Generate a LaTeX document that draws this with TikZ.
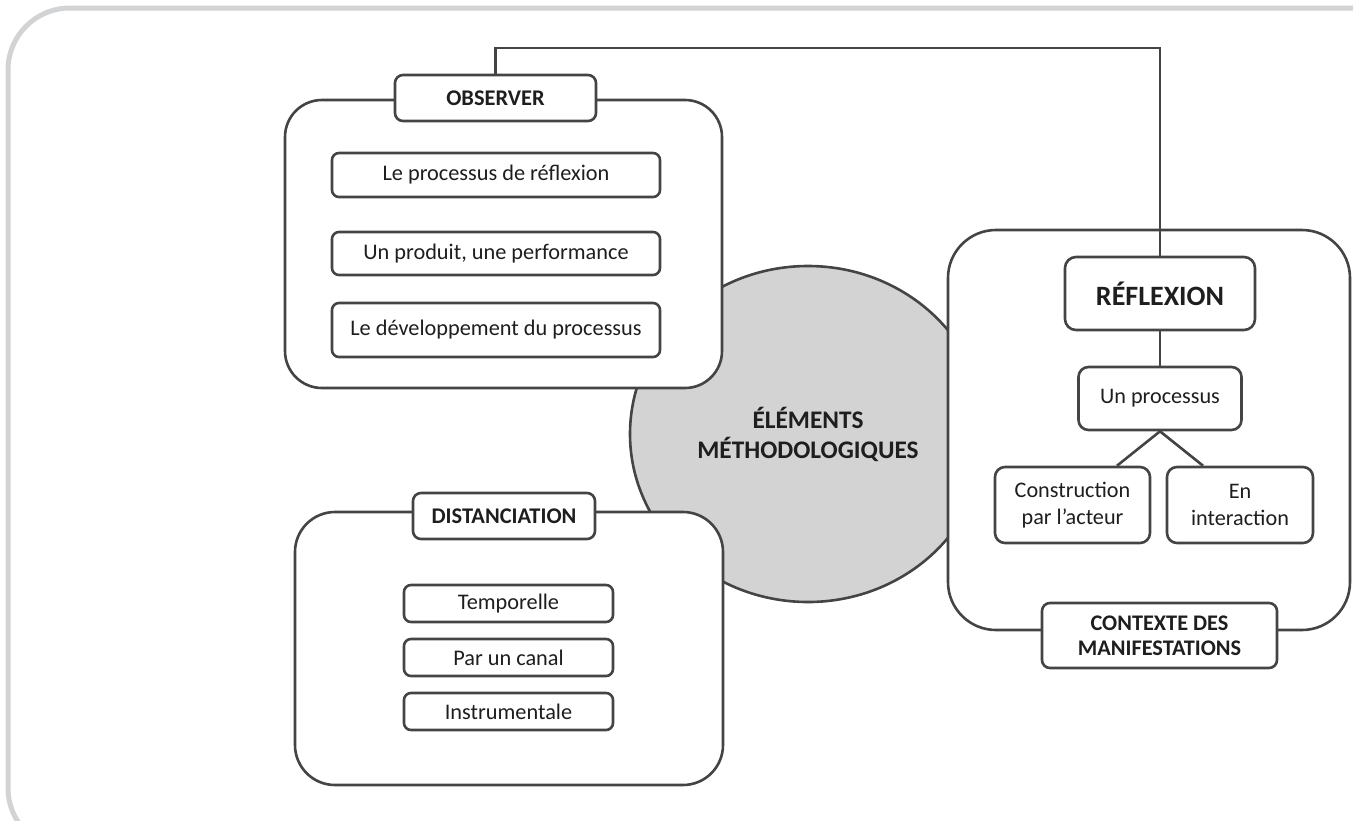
\documentclass[tikz,border=0pt]{standalone}
\usepackage{fontspec}
\setmainfont{Carlito}
\usetikzlibrary{shapes.geometric,calc}
\definecolor{framegray}{RGB}{210,211,213}
\definecolor{linegray}{RGB}{68,68,68}
\definecolor{circfill}{RGB}{211,211,211}
\definecolor{txt}{RGB}{30,30,30}
\tikzset{
  base/.style={draw=linegray, line width=2.6pt, fill=white, text=txt, inner sep=0pt, align=center},
  bigbox/.style={base, rounded corners=#1},
  bigbox/.default=38pt,
  item/.style={base, rounded corners=7pt, font=\fontsize{22.3}{26}\selectfont},
  label/.style={base, rounded corners=8pt, font=\bfseries\fontsize{22.4}{25}\selectfont},
  rbox/.style={base, rounded corners=10pt, font=\fontsize{22.2}{27}\selectfont},
  conn/.style={draw=linegray, line width=2.6pt}
}
\begin{document}
\begin{tikzpicture}[x=1pt,y=-1pt]
\useasboundingbox (0,0) rectangle (1353,820);
\clip (0,0) rectangle (1353,820);
% outer frame
\draw[framegray, line width=5pt, rounded corners=62pt] (8,8) rectangle (1430,850);
% central ellipse
\node (circ) [ellipse, draw=linegray, line width=2.6pt, fill=circfill, minimum width=356pt, minimum height=336pt, inner sep=0pt, align=center, text=txt, font=\bfseries\fontsize{25.3}{30}\selectfont] at (808,434) {ÉLÉMENTS\\MÉTHODOLOGIQUES};
% connector top
\coordinate (c1) at (495.5,48);
\coordinate (c2) at (1160,48);
% observer
\node (obs) [bigbox=37pt, minimum width=437pt, minimum height=288pt] at (503.5,244) {};
\node (obslab) [label, minimum width=201pt, minimum height=46pt] at (495.5,98) {OBSERVER};
\node (o1) [item, minimum width=328pt, minimum height=44pt] at (496,175) {Le processus de réflexion};
\node (o2) [item, minimum width=328pt, minimum height=43pt] at (496,253.5) {Un produit, une performance};
\node (o3) [item, minimum width=328pt, minimum height=54pt] at (496,330) {Le développement du processus};
% distanciation
\node (dist) [bigbox=40pt, minimum width=428pt, minimum height=273pt] at (509,648.5) {};
\node (distlab) [label, minimum width=182pt, minimum height=46pt] at (504,516) {DISTANCIATION};
\node (d1) [item, minimum width=209pt, minimum height=37pt] at (508.5,603.5) {Temporelle};
\node (d2) [item, minimum width=209pt, minimum height=37pt] at (508.5,657.5) {Par un canal};
\node (d3) [item, minimum width=209pt, minimum height=37pt] at (508.5,711.5) {Instrumentale};
% right box
\node (ctx) [bigbox=48pt, minimum width=402pt, minimum height=400pt] at (1149,430) {};
\draw[conn] (obslab.north) -- (c1) -- (c2) -- (c2 |- ctx.north);
\node (refl) [base, rounded corners=11pt, minimum width=190pt, minimum height=73pt, font=\bfseries\fontsize{28}{30}\selectfont] at (1160,293.5) {RÉFLEXION};
\draw[conn] (c2 |- ctx.north) -- (refl.north);
\node (up) [rbox, minimum width=163pt, minimum height=63pt] at (1160,398.5) {Un processus};
\node (cons) [rbox, minimum width=155pt, minimum height=76pt] at (1072.5,505) {Construction\\par l’acteur};
\node (inter) [rbox, minimum width=146pt, minimum height=76pt] at (1240,505) {En\\interaction};
\node (ctxlab) [label, minimum width=235pt, minimum height=65pt, font=\bfseries\fontsize{22.3}{25}\selectfont] at (1159.5,635.5) {CONTEXTE DES\\MANIFESTATIONS};
\draw[conn] (refl.south) -- (up.north);
\draw[conn] (up.south) -- ($(cons.north)+(44.5,0)$);
\draw[conn] (up.south) -- ($(inter.north)+(-37,0)$);
\end{tikzpicture}
\end{document}
